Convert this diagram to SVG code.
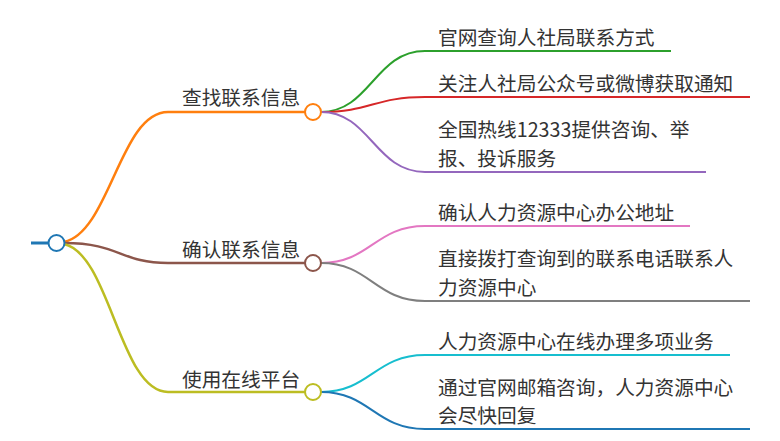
<svg xmlns="http://www.w3.org/2000/svg" width="780" height="441" viewBox="0 0 780 441">
<style>
text{font-family:"Noto Sans CJK SC","Noto Sans",sans-serif;font-size:19.7px;fill:#333}
.c{fill:#fff;stroke-width:2}
.l{fill:none;stroke-width:2}
.m{fill:none;stroke-width:2.5}
</style>
<rect width="780" height="441" fill="#fff"/>
<g id="connectors">
<line x1="31" y1="243" x2="48" y2="243" stroke="#1f77b4" stroke-width="3"/>
<path class="m" stroke="#ff7f0e" d="M64,242 C110,232 120,112 168,112 L305,112"/>
<path class="m" stroke="#8c564b" d="M64,243 C120,243 120,263 168,263 L305,263"/>
<path class="m" stroke="#bcbd22" d="M64,244 C110,254 120,392 168,392 L305,392"/>
<path class="l" stroke="#2ca02c" d="M321,112 C370,112 375,51 425,51 L671,51"/>
<path class="l" stroke="#d62728" d="M321,112 C370,112 375,97 425,97 L750,97"/>
<path class="l" stroke="#9467bd" d="M321,112 C370,112 375,172 425,172 L706,172"/>
<path class="l" stroke="#e377c2" d="M321,263 C370,263 375,226 425,226 L690,226"/>
<path class="l" stroke="#7f7f7f" d="M321,263 C370,263 375,301 425,301 L750,301"/>
<path class="l" stroke="#17becf" d="M321,392 C370,392 375,355 425,355 L730,355"/>
<path class="l" stroke="#1f77b4" d="M321,392 C370,392 375,429 425,429 L750,429"/>
</g>
<g id="root"><circle class="c" cx="56.5" cy="243" r="8" stroke="#1f77b4" stroke-width="2.5"/></g>
<g id="n1"><circle class="c" cx="313" cy="112" r="8" stroke="#ff7f0e"/><text x="182" y="105">查找联系信息</text></g>
<g id="n2"><circle class="c" cx="313" cy="263" r="8" stroke="#8c564b"/><text x="182" y="257">确认联系信息</text></g>
<g id="n3"><circle class="c" cx="313" cy="392" r="8" stroke="#bcbd22"/><text x="182" y="387">使用在线平台</text></g>
<g id="n1a"><text x="438" y="45">官网查询人社局联系方式</text></g>
<g id="n1b"><text x="438" y="91">关注人社局公众号或微博获取通知</text></g>
<g id="n1c"><text x="438" y="137">全国热线12333提供咨询、举</text><text x="438" y="166">报、投诉服务</text></g>
<g id="n2a"><text x="438" y="220">确认人力资源中心办公地址</text></g>
<g id="n2b"><text x="438" y="266">直接拨打查询到的联系电话联系人</text><text x="438" y="295">力资源中心</text></g>
<g id="n3a"><text x="438" y="349">人力资源中心在线办理多项业务</text></g>
<g id="n3b"><text x="438" y="395">通过官网邮箱咨询，人力资源中心</text><text x="438" y="423">会尽快回复</text></g>
</svg>
